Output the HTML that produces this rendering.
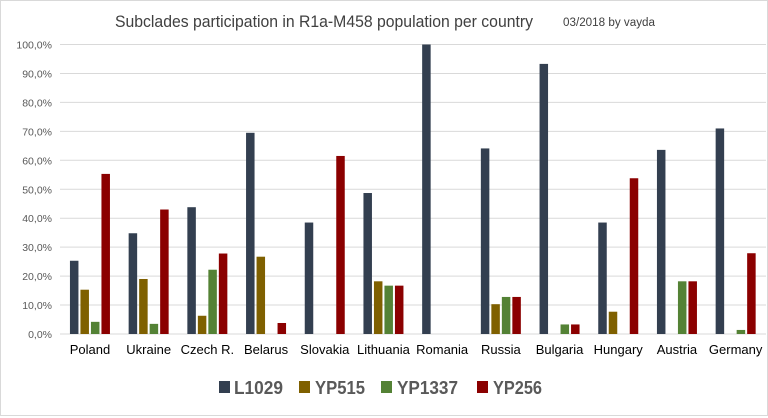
<!DOCTYPE html>
<html><head><meta charset="utf-8"><style>
html,body{margin:0;padding:0;background:#fff}
svg{display:block;font-family:"Liberation Sans",sans-serif}
</style></head><body>
<svg width="768" height="418" viewBox="0 0 768 418" xmlns="http://www.w3.org/2000/svg">
<rect x="0.5" y="0.5" width="767" height="415" fill="#fff" stroke="#d9d9d9"/>
<text x="115" y="27" font-size="16.5" fill="#404040" textLength="418" lengthAdjust="spacingAndGlyphs">Subclades participation in R1a-M458 population per country</text>
<text x="563" y="26" font-size="11.5" fill="#404040" textLength="92" lengthAdjust="spacingAndGlyphs">03/2018 by vayda</text>
<g id="grid" stroke="#d9d9d9" stroke-width="1"></g>
<g id="ylab" font-size="10.5" fill="#595959" text-anchor="end"></g>
<g id="bars"></g>
<g id="xlab" font-size="13" fill="#000" text-anchor="middle"></g>
<g font-size="18" font-weight="bold" fill="#595959">
<rect x="219" y="381" width="11" height="12" fill="#333f50"/><text x="234" y="394" textLength="49" lengthAdjust="spacingAndGlyphs">L1029</text>
<rect x="299" y="381" width="11" height="12" fill="#7f6000"/><text x="315" y="394" textLength="50" lengthAdjust="spacingAndGlyphs">YP515</text>
<rect x="381" y="381" width="11" height="12" fill="#548235"/><text x="397" y="394" textLength="61" lengthAdjust="spacingAndGlyphs">YP1337</text>
<rect x="477" y="381" width="11" height="12" fill="#8b0000"/><text x="493" y="394" textLength="49" lengthAdjust="spacingAndGlyphs">YP256</text>
</g>
<script>
const ns="http://www.w3.org/2000/svg";
const y0=334,y1=44.5,x0=60.6,cw=58.7;
const g=document.getElementById('grid'),yl=document.getElementById('ylab');
for(let i=0;i<=10;i++){const y=y0-(y0-y1)*i/10;
 const l=document.createElementNS(ns,'line');l.setAttribute('x1',60);l.setAttribute('x2',766);l.setAttribute('y1',y);l.setAttribute('y2',y);g.appendChild(l);
 const t=document.createElementNS(ns,'text');t.setAttribute('x',52);t.setAttribute('y',y+4);t.textContent=(i*10)+',0%';yl.appendChild(t);}
const data=[["Poland",25.3,15.3,4.2,55.3],["Ukraine",34.8,19,3.5,43],["Czech R.",43.8,6.3,22.2,27.8],["Belarus",69.5,26.7,0,3.8],["Slovakia",38.5,0,0,61.5],["Lithuania",48.7,18.2,16.7,16.7],["Romania",100,0,0,0],["Russia",64.1,10.3,12.8,12.8],["Bulgaria",93.3,0,3.3,3.3],["Hungary",38.5,7.7,0,53.8],["Austria",63.6,0,18.2,18.2],["Germany",71,0,1.4,27.9]];
const cols=["#333f50","#7f6000","#548235","#8b0000"];
const b=document.getElementById('bars'),xl=document.getElementById('xlab');
data.forEach((d,i)=>{const c=x0+cw*(i+0.5);
 for(let k=0;k<4;k++){const v=d[k+1];if(!v)continue;const h=(y0-y1)*v/100;
  const r=document.createElementNS(ns,'rect');r.setAttribute('x',c+(k-1.5)*10.5-4.25);r.setAttribute('width',8.5);r.setAttribute('y',y0-h);r.setAttribute('height',h);r.setAttribute('fill',cols[k]);b.appendChild(r);}
 const t=document.createElementNS(ns,'text');t.setAttribute('x',c);t.setAttribute('y',354);t.textContent=d[0];xl.appendChild(t);});
</script>
</svg>
</body></html>
